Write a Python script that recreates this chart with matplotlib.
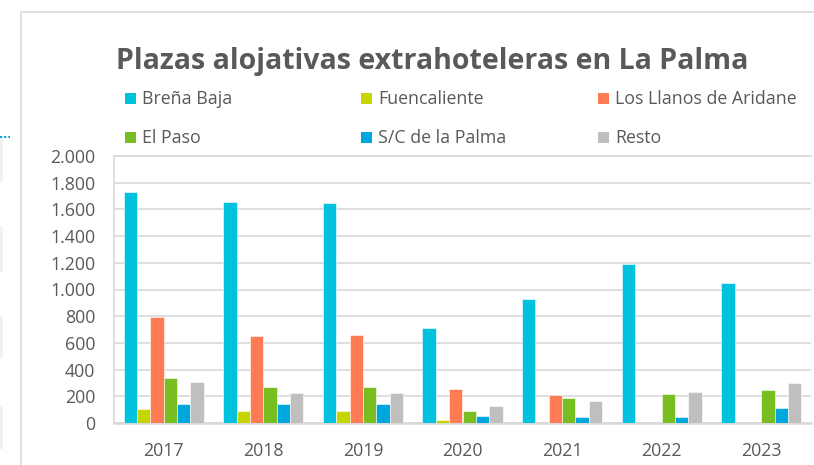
import matplotlib
matplotlib.use("Agg")
import matplotlib.pyplot as plt
import matplotlib.patches as mpatches
import numpy as np
from matplotlib.ticker import FuncFormatter

years = ["2017", "2018", "2019", "2020", "2021", "2022", "2023"]
series_names = ["Breña Baja", "Fuencaliente", "Los Llanos de Aridane",
                "El Paso", "S/C de la Palma", "Resto"]
brena_baja = [1730, 1652, 1645, 715, 932, 1192, 1047]
fuencaliente = [105, 92, 92, 25, 3, np.nan, np.nan]
los_llanos = [795, 655, 660, 257, 210, np.nan, np.nan]
el_paso = [335, 270, 270, 92, 185, 215, 245]
sc_palma = [145, 145, 145, 50, 42, 42, 110]
resto = [307, 222, 222, 130, 165, 235, 302]
colors = ["#00C1DE", "#C5D500", "#FF7B53", "#78BE21", "#00A7DD", "#BFBFBF"]
title = "Plazas alojativas extrahoteleras en La Palma"

all_series = [brena_baja, fuencaliente, los_llanos, el_paso, sc_palma, resto]

W, H = 814, 465
fig = plt.figure(figsize=(W / 100, H / 100), dpi=100)
font = "Open Sans"
txt_color = "#595959"
grid_color = "#D9D9D9"

def fx(px):
    return px / W

def fy(py):
    return 1 - py / H

# page artefacts on the far left
for y0, y1 in [(137, 183), (227, 272), (316, 359), (405, 449)]:
    fig.patches.append(mpatches.Rectangle((0, fy(y1)), fx(3), (y1 - y0) / H,
                                          transform=fig.transFigure,
                                          facecolor="#F2F2F2", edgecolor="none"))
fig.add_artist(plt.Line2D([0, fx(10)], [fy(137), fy(137)], transform=fig.transFigure,
                          color="#00A7DD", lw=1.5, linestyle=(0, (1, 1))))

# chart outer border
fig.add_artist(plt.Line2D([fx(20.5), fx(20.5), fx(814)], [fy(465), fy(12), fy(12)],
                          transform=fig.transFigure, color="#D9D9D9", lw=1.2))

ax = fig.add_axes([fx(114), fy(423), fx(811) - fx(114), (423 - 156) / H])

x = np.arange(len(years))
w = 0.134
bars = []
for i, (vals, c) in enumerate(zip(all_series, colors)):
    b = ax.bar(x + (i - 2.5) * w, vals, width=w, color=c, edgecolor="white",
               linewidth=0.4, zorder=3)
    bars.append(b)

ax.set_xlim(-0.5, len(years) - 0.5)
ax.set_ylim(0, 2000)
ax.set_yticks(np.arange(0, 2001, 200))
ax.yaxis.set_major_formatter(FuncFormatter(lambda v, p: f"{int(v):,}".replace(",", ".")))
ax.set_xticks(x)
ax.set_xticklabels(years)
ax.grid(axis="y", color=grid_color, lw=1.2, zorder=0)
ax.tick_params(axis="both", length=0, labelsize=12.8, labelcolor=txt_color)
ax.tick_params(axis="y", pad=13.5)
ax.tick_params(axis="x", pad=14)
for lab in ax.get_xticklabels() + ax.get_yticklabels():
    lab.set_fontfamily(font)
for s in ["right"]:
    ax.spines[s].set_visible(False)
for s in ["left", "top", "bottom"]:
    ax.spines[s].set_color(grid_color)
    ax.spines[s].set_linewidth(1.2)
ax.spines["bottom"].set_linewidth(1.8)

# title
fig.text(fx(116), fy(61), title, fontsize=20.5, fontweight="bold", color=txt_color,
         family=font, ha="left", va="center")

# legend (3 columns x 2 rows, row-major)
col_x = [125, 361, 598]
row_y = [99, 138]
order = [0, 1, 2, 3, 4, 5]
for k, idx in enumerate(order):
    r, cidx = divmod(k, 3)
    mx, my = col_x[cidx], row_y[r]
    fig.patches.append(mpatches.Rectangle((fx(mx), fy(my + 5.5)), fx(11), 11 / H,
                                          transform=fig.transFigure,
                                          facecolor=colors[idx], edgecolor="none"))
    fig.text(fx(mx + 17), fy(my), series_names[idx], fontsize=12.8, color=txt_color,
             family=font, ha="left", va="center")

fig.savefig("out.png", dpi=100)
